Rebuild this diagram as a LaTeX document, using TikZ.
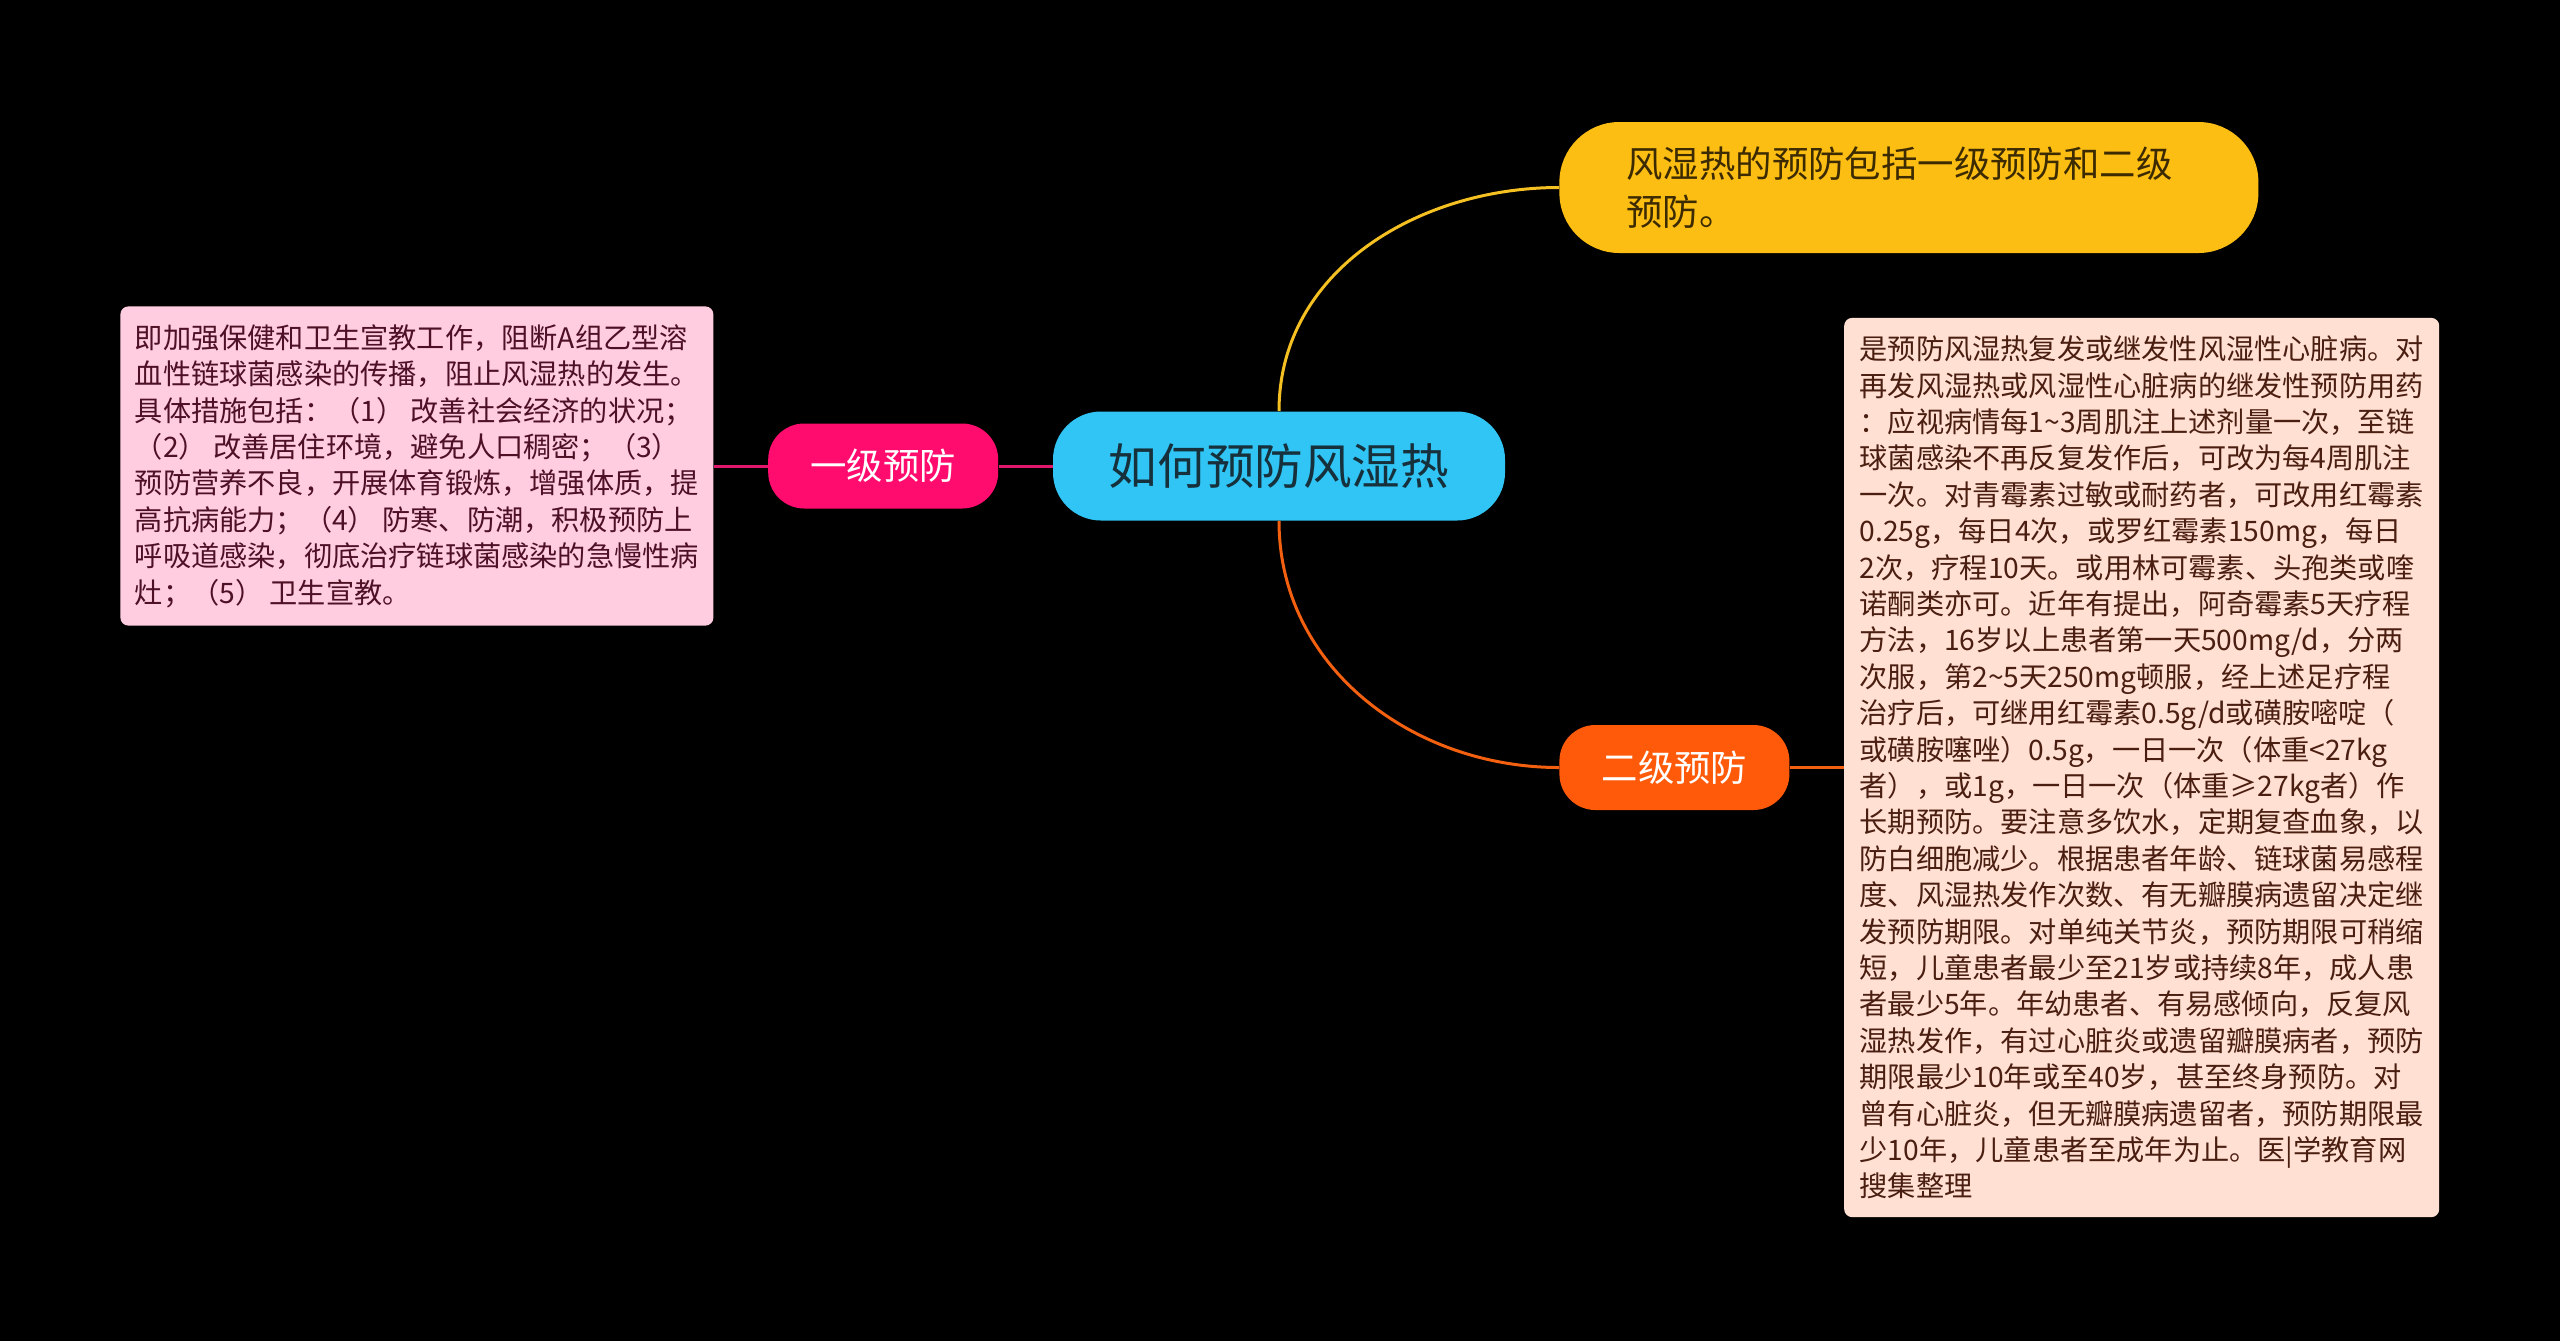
\documentclass[tikz,border=0pt]{standalone}
\usepackage{fontspec}
\setmainfont{Noto Sans CJK SC}
\usetikzlibrary{positioning}

\definecolor{rootblue}{RGB}{48,197,244}
\definecolor{roottext}{RGB}{22,48,60}
\definecolor{firstpink}{RGB}{255,12,110}
\definecolor{firstnotebg}{RGB}{255,204,224}
\definecolor{firstnotetext}{RGB}{78,16,36}
\definecolor{introyellow}{RGB}{253,190,20}
\definecolor{introtext}{RGB}{60,42,0}
\definecolor{secondorange}{RGB}{255,90,10}
\definecolor{secondnotebg}{RGB}{255,224,210}
\definecolor{secondnotetext}{RGB}{74,30,16}
\definecolor{yellowline}{RGB}{245,192,33}
\definecolor{orangeline}{RGB}{242,96,16}
\definecolor{pinkline}{RGB}{224,24,108}

\begin{document}
\begin{tikzpicture}[x=0.5pt,y=0.5pt,node distance=27pt,
  topic node/.style={rectangle,rounded corners=24pt,fill=rootblue,
    text=roottext,minimum width=226pt,minimum height=54.5pt,
    font=\fontsize{24.3pt}{28pt}\selectfont},
  branch node/.style={rectangle,rounded corners=18pt,text=white,
    minimum width=115pt,minimum height=42.5pt,
    font=\fontsize{18.2pt}{22pt}\selectfont},
  intro node/.style={rectangle,rounded corners=30pt,fill=introyellow,
    text=introtext,text width=282.5pt,inner xsep=33.5pt,
    minimum height=65.5pt,align=left,
    font=\fontsize{18.2pt}{23.7pt}\selectfont},
  note node/.style={rectangle,rounded corners=4pt,align=left,
    minimum width=297pt,inner ysep=9pt,
    font=\fontsize{14.1pt}{18.2pt}\selectfont}]

  \useasboundingbox (0,0) rectangle (2560,-1341);
  \fill[black] (0,0) rectangle (2560,-1341);

  \node[topic node] (root) at (1279,-466) {如何预防风湿热};
  \node[branch node, fill=firstpink] (first) [left=of root] {一级预防};
  \node[note node, fill=firstnotebg, text=firstnotetext, minimum width=296.5pt]
    (firstnote) [left=of first] {即加强保健和卫生宣教工作，阻断A组乙型溶\\
    血性链球菌感染的传播，阻止风湿热的发生。\\
    具体措施包括：（1） 改善社会经济的状况；\\
    （2） 改善居住环境，避免人口稠密；（3）\\
    预防营养不良，开展体育锻炼，增强体质，提\\
    高抗病能力；（4） 防寒、防潮，积极预防上\\
    呼吸道感染，彻底治疗链球菌感染的急慢性病\\
    灶；（5） 卫生宣教。};

  \node[intro node, anchor=west] (intro) at (1559,-187.5)
    {风湿热的预防包括一级预防和二级\\预防。};
  \node[branch node, fill=secondorange, anchor=west] (second) at (1559,-767.5)
    {二级预防};
  \node[note node, fill=secondnotebg, text=secondnotetext, minimum width=297.5pt]
    (secondnote) [right=of second] {是预防风湿热复发或继发性风湿性心脏病。对\\
    再发风湿热或风湿性心脏病的继发性预防用药\\
    ：应视病情每1\textasciitilde 3周肌注上述剂量一次，至链\\
    球菌感染不再反复发作后，可改为每4周肌注\\
    一次。对青霉素过敏或耐药者，可改用红霉素\\
    0.25g，每日4次，或罗红霉素150mg，每日\\
    2次，疗程10天。或用林可霉素、头孢类或喹\\
    诺酮类亦可。近年有提出，阿奇霉素5天疗程\\
    方法，16岁以上患者第一天500mg/d，分两\\
    次服，第2\textasciitilde 5天250mg顿服，经上述足疗程\\
    治疗后，可继用红霉素0.5g/d或磺胺嘧啶（\\
    或磺胺噻唑）0.5g，一日一次（体重<27kg\\
    者），或1g，一日一次（体重≥27kg者）作\\
    长期预防。要注意多饮水，定期复查血象，以\\
    防白细胞减少。根据患者年龄、链球菌易感程\\
    度、风湿热发作次数、有无瓣膜病遗留决定继\\
    发预防期限。对单纯关节炎，预防期限可稍缩\\
    短，儿童患者最少至21岁或持续8年，成人患\\
    者最少5年。年幼患者、有易感倾向，反复风\\
    湿热发作，有过心脏炎或遗留瓣膜病者，预防\\
    期限最少10年或至40岁，甚至终身预防。对\\
    曾有心脏炎，但无瓣膜病遗留者，预防期限最\\
    少10年，儿童患者至成年为止。医|学教育网\\
    搜集整理};

  \path[line width=1.5pt]
    (root) edge[draw=pinkline] (first)
    (first) edge[draw=pinkline] (firstnote)
    (second) edge[draw=orangeline] (secondnote)
    (root.north) edge[draw=yellowline, out=90, in=180] (intro.west)
    (root.south) edge[draw=orangeline, out=-90, in=180] (second.west);

\end{tikzpicture}
\end{document}
